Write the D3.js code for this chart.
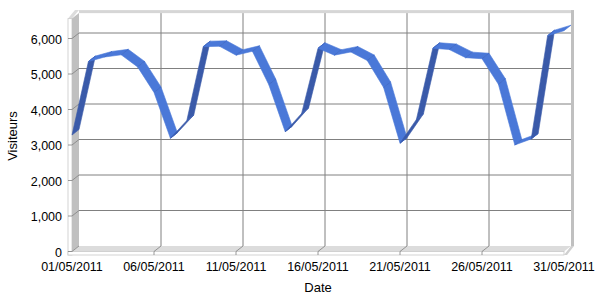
<!DOCTYPE html>
<html>
<head>
<meta charset="utf-8">
<script src="https://cdn.jsdelivr.net/npm/d3@7"></script>
<style>
  html, body { margin: 0; padding: 0; background: #ffffff; }
  svg { display: block; }
  text { font-family: "Liberation Sans", Arial, sans-serif; fill: #000; }
</style>
</head>
<body>
<div id="chart"></div>
<script>
// ---- Data ----
const dates = [
  "2011-05-01","2011-05-02","2011-05-03","2011-05-04","2011-05-05","2011-05-06","2011-05-07",
  "2011-05-08","2011-05-09","2011-05-10","2011-05-11","2011-05-12","2011-05-13","2011-05-14",
  "2011-05-15","2011-05-16","2011-05-17","2011-05-18","2011-05-19","2011-05-20","2011-05-21",
  "2011-05-22","2011-05-23","2011-05-24","2011-05-25","2011-05-26","2011-05-27","2011-05-28",
  "2011-05-29","2011-05-30","2011-05-31"
];
const visiteurs = [
  3280, 5350, 5480, 5540, 5200, 4480, 3190,
  3690, 5770, 5780, 5530, 5640, 4700, 3375,
  3890, 5725, 5530, 5620, 5380, 4620, 3050,
  3720, 5725, 5690, 5460, 5430, 4710, 3000,
  3170, 6080, 6220
];
const yTicks = [0, 1000, 2000, 3000, 4000, 5000, 6000];
const xTickLabels = ["01/05/2011","06/05/2011","11/05/2011","16/05/2011","21/05/2011","26/05/2011","31/05/2011"];
const yTitle = "Visiteurs";
const xTitle = "Date";

// ---- Layout ----
const W = 600, H = 300;
const DX = 7, DY = -5.5;   // depth offset (front -> back)
const parse = d3.timeParse("%Y-%m-%d");
const parseLabel = d3.timeParse("%d/%m/%Y");
const pts = dates.map((d, i) => ({ date: parse(d), v: visiteurs[i] }));

const yMax = 6560;
const x = d3.scaleTime()
  .domain([parse(dates[0]), parse(dates[dates.length - 1])])
  .range([72, 564]);
const y = d3.scaleLinear().domain([0, yMax]).range([251.5, 251.5 - yMax * 0.0355]);

const svg = d3.select("#chart").append("svg").attr("width", W).attr("height", H);

const x0 = x.range()[0], x1 = x.range()[1];
const yb = y(0), yt = y(yMax);
const grid = "#808080";

// Back wall
svg.append("rect")
  .attr("x", x0 + DX).attr("y", yt + DY)
  .attr("width", x1 - x0).attr("height", yb - yt)
  .attr("fill", "#ffffff");

// Top edge of back wall
svg.append("rect")
  .attr("x", x0 + DX).attr("y", yt + DY - 3)
  .attr("width", x1 - x0 + 3).attr("height", 3)
  .attr("fill", "#d6d6d6");

// Left wall outer strip
svg.append("polygon")
  .attr("points", [[x0 - 4, yt], [x0 + DX - 4, yt + DY - 3], [x0 + DX, yt + DY - 3], [x0, yt]].join(" "))
  .attr("fill", "#dcdcdc");
svg.append("rect")
  .attr("x", x0 - 4).attr("y", yt)
  .attr("width", 4).attr("height", yb - yt + 3.5)
  .attr("fill", "#ffffff").attr("stroke", "#c8c8c8").attr("stroke-width", 0.8);

// Left wall
svg.append("polygon")
  .attr("points", [[x0, yb], [x0 + DX, yb + DY], [x0 + DX, yt + DY], [x0, yt]].join(" "))
  .attr("fill", "#c0c0c0");

// Right wall
svg.append("rect")
  .attr("x", x1 + DX).attr("y", yt + DY - 3)
  .attr("width", 3).attr("height", yb - yt + 3)
  .attr("fill", "#c0c0c0");
svg.append("polygon")
  .attr("points", [[x1 + DX, yb + DY], [x1 + DX + 3, yb + DY], [x1 + 3, yb + 3.5], [x1, yb + 3.5]].join(" "))
  .attr("fill", "#d0d0d0");

// Floor
svg.append("polygon")
  .attr("points", [[x0, yb], [x0 + DX, yb + DY], [x1 + DX, yb + DY], [x1, yb]].join(" "))
  .attr("fill", "#dcdcdc");
svg.append("rect")
  .attr("x", x0 - 4).attr("y", yb)
  .attr("width", x1 - x0 + 4).attr("height", 3.5)
  .attr("fill", "#ffffff").attr("stroke", "#c8c8c8").attr("stroke-width", 0.8);

// Horizontal gridlines + ticks
yTicks.forEach(v => {
  const yy = y(v);
  if (v > 0) {
    svg.append("line").attr("x1", x0 + DX).attr("x2", x1 + DX)
      .attr("y1", yy + DY).attr("y2", yy + DY).attr("stroke", grid).attr("stroke-width", 1);
  }
  svg.append("line").attr("x1", x0).attr("x2", x0 + DX)
    .attr("y1", yy).attr("y2", yy + DY).attr("stroke", grid).attr("stroke-width", 0.8);
  svg.append("line").attr("x1", x0 - 4).attr("x2", x0)
    .attr("y1", yy).attr("y2", yy).attr("stroke", grid).attr("stroke-width", 0.8);
  svg.append("text")
    .attr("x", 62).attr("y", yy + 1)
    .attr("text-anchor", "end").attr("dominant-baseline", "central")
    .attr("font-size", 12.5)
    .text(d3.format(",")(v));
});

// Vertical gridlines + x labels
xTickLabels.forEach((lab, i) => {
  const xx = x(parseLabel(lab));
  if (i > 0 && i < xTickLabels.length - 1) {
    svg.append("line").attr("x1", xx + DX).attr("x2", xx + DX)
      .attr("y1", yt + DY).attr("y2", yb + DY).attr("stroke", grid).attr("stroke-width", 1);
    svg.append("line").attr("x1", xx).attr("x2", xx + DX)
      .attr("y1", yb).attr("y2", yb + DY).attr("stroke", grid).attr("stroke-width", 0.8);
    svg.append("line").attr("x1", xx).attr("x2", xx)
      .attr("y1", yb).attr("y2", yb + 3.5).attr("stroke", grid).attr("stroke-width", 0.8);
  }
  svg.append("text")
    .attr("x", xx).attr("y", 267)
    .attr("text-anchor", "middle").attr("dominant-baseline", "central")
    .attr("font-size", 12.5)
    .text(lab);
});

// 3D ribbon line
const light = "#4a78d8", dark = "#3a5aa9";
const ribbon = svg.append("g");
for (let i = 0; i < pts.length - 1; i++) {
  const a = pts[i], b = pts[i + 1];
  const fa = [x(a.date), y(a.v)], fb = [x(b.date), y(b.v)];
  const ba = [fa[0] + DX, fa[1] + DY], bb = [fb[0] + DX, fb[1] + DY];
  const sx = fb[0] - fa[0], sy = fb[1] - fa[1];
  const cross = sx * DY - sy * DX;
  const col = cross < 0 ? light : dark;
  ribbon.append("polygon")
    .attr("points", [fa, fb, bb, ba].join(" "))
    .attr("fill", col).attr("stroke", col).attr("stroke-width", 0.6)
    .attr("stroke-linejoin", "round");
}
// joint lines
for (let i = 1; i < pts.length - 1; i++) {
  const p = pts[i];
  const f = [x(p.date), y(p.v)];
  ribbon.append("line")
    .attr("x1", f[0]).attr("y1", f[1]).attr("x2", f[0] + DX).attr("y2", f[1] + DY)
    .attr("stroke", "#3a60bd").attr("stroke-width", 0.7).attr("opacity", 0.8);
}

// Axis titles
svg.append("text")
  .attr("transform", "translate(12,136) rotate(-90)")
  .attr("text-anchor", "middle").attr("dominant-baseline", "central")
  .attr("font-size", 13)
  .text(yTitle);
svg.append("text")
  .attr("x", 318).attr("y", 287)
  .attr("text-anchor", "middle").attr("dominant-baseline", "central")
  .attr("font-size", 13)
  .text(xTitle);
</script>
</body>
</html>
